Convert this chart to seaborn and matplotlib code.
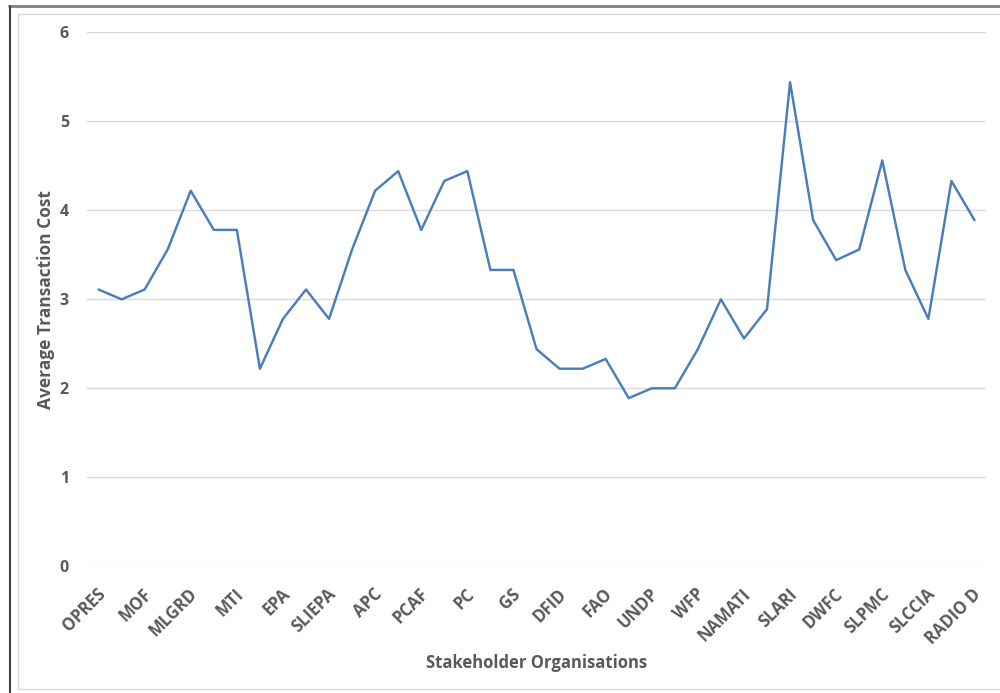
import numpy as np
import pandas as pd
import matplotlib
matplotlib.use("Agg")
import matplotlib.pyplot as plt
import matplotlib.transforms as mtransforms
import seaborn as sns
from matplotlib.lines import Line2D
from matplotlib.patches import Rectangle

# average transaction cost per stakeholder (39 organisations, every other one labelled)
avg_cost = [3.11, 3.00, 3.11, 3.56, 4.22, 3.78, 3.78, 2.22, 2.78, 3.11,
            2.78, 3.56, 4.22, 4.44, 3.78, 4.33, 4.44, 3.33, 3.33, 2.44,
            2.22, 2.22, 2.33, 1.89, 2.00, 2.00, 2.44, 3.00, 2.56, 2.89,
            5.44, 3.89, 3.44, 3.56, 4.56, 3.33, 2.78, 4.33, 3.89]
tick_labels = ['OPRES', 'MOF', 'MLGRD', 'MTI', 'EPA', 'SLIEPA', 'APC', 'PCAF',
               'PC', 'GS', 'DFID', 'FAO', 'UNDP', 'WFP', 'NAMATI', 'SLARI',
               'DWFC', 'SLPMC', 'SLCCIA', 'RADIO D']
y_ticks = [0, 1, 2, 3, 4, 5, 6]

df = pd.DataFrame({'pos': np.arange(len(avg_cost)), 'cost': avg_cost})

sns.set_theme(style="white")
plt.rcParams['font.family'] = ['Open Sans', 'DejaVu Sans']
txt = '#595959'

fig = plt.figure(figsize=(10, 6.93), dpi=100)
ax = fig.add_axes([0.087, 0.1828, 0.899, 0.7706])

sns.lineplot(data=df, x='pos', y='cost', ax=ax, color='#4A7EBB', linewidth=1.75)

ax.set_xlim(-0.5, len(avg_cost) - 0.5)
ax.set_ylim(0, 6)
ax.set_yticks(y_ticks)
ax.set_yticklabels([str(v) for v in y_ticks], fontsize=11.5, fontweight='bold', color=txt)
ax.set_xticks(np.arange(0, len(avg_cost), 2))
ax.set_xticklabels(tick_labels, rotation=45, ha='right', va='center',
                   rotation_mode='anchor', fontsize=12, fontweight='bold', color=txt)
ax.tick_params(axis='both', length=0)
ax.tick_params(axis='y', pad=13)
ax.tick_params(axis='x', pad=18)

# nudge rotated labels right so their ends sit just past the data point
shift = mtransforms.ScaledTranslation(0.04, 0, fig.dpi_scale_trans)
for lab in ax.get_xticklabels():
    lab.set_transform(lab.get_transform() + shift)

ax.yaxis.grid(True, color='#D9D9D9', linewidth=1)
ax.set_axisbelow(True)
for s in ax.spines.values():
    s.set_visible(False)

ax.set_xlabel('Stakeholder Organisations', fontsize=12, fontweight='bold', color=txt)
ax.set_ylabel('Average Transaction Cost', fontsize=12.5, fontweight='bold', color=txt)
ax.xaxis.set_label_coords(0.5, -0.164)
ax.yaxis.set_label_coords(-0.036, 0.5)

# chart frame and outer border like the screenshot
fig.add_artist(Rectangle((0.018, 0.006), 0.99, 0.974, transform=fig.transFigure,
                         fill=False, edgecolor='#D9D9D9', linewidth=1))
fig.add_artist(Line2D([0.009, 1.0], [0.991, 0.991], transform=fig.transFigure,
                      color='#7F7F7F', linewidth=2))
fig.add_artist(Line2D([0.0095, 0.0095], [0.0, 0.991], transform=fig.transFigure,
                      color='#404040', linewidth=1.5))

fig.savefig('out.png', dpi=100)
